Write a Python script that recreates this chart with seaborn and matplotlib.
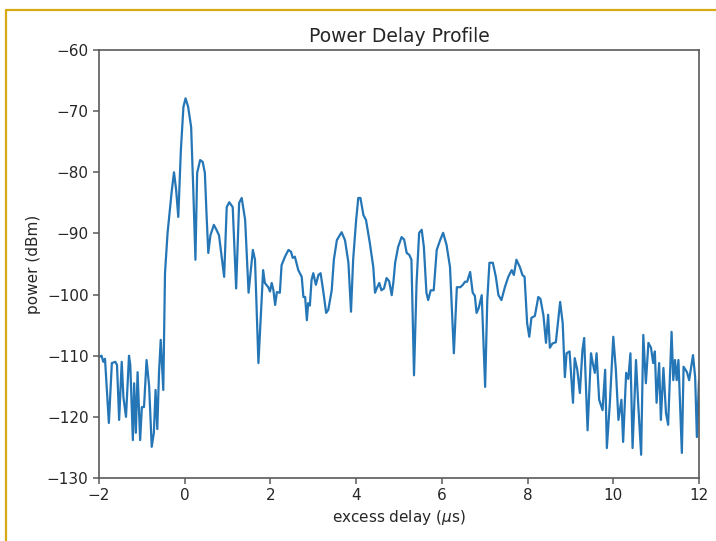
import matplotlib
matplotlib.use("Agg")
import matplotlib.pyplot as plt
from matplotlib.lines import Line2D
import seaborn as sns
import pandas as pd

# ---- data ----
delay_us = [
    -2.00, -1.94, -1.90, -1.86, -1.77, -1.70, -1.62, -1.58, -1.53, -1.47,
    -1.43, -1.37, -1.30, -1.27, -1.21, -1.18, -1.14, -1.10, -1.04, -1.00,
    -0.95, -0.89, -0.83, -0.77, -0.72, -0.68, -0.64, -0.60, -0.56, -0.50,
    -0.46, -0.40, -0.30, -0.25, -0.20, -0.15, -0.09, -0.03, 0.02, 0.08,
    0.15, 0.20, 0.25, 0.29, 0.36, 0.42, 0.47, 0.51, 0.55, 0.60,
    0.68, 0.74, 0.80, 0.92, 0.98, 1.04, 1.12, 1.20, 1.27, 1.33,
    1.41, 1.49, 1.59, 1.64, 1.72, 1.78, 1.83, 1.87, 1.95, 1.99,
    2.03, 2.07, 2.11, 2.15, 2.22, 2.26, 2.34, 2.42, 2.48, 2.52,
    2.57, 2.65, 2.73, 2.77, 2.81, 2.85, 2.88, 2.92, 2.96, 3.00,
    3.06, 3.12, 3.17, 3.23, 3.30, 3.35, 3.43, 3.48, 3.55, 3.66,
    3.74, 3.82, 3.88, 3.93, 4.00, 4.05, 4.10, 4.17, 4.23, 4.32,
    4.40, 4.44, 4.48, 4.54, 4.59, 4.65, 4.71, 4.77, 4.83, 4.87,
    4.91, 4.98, 5.06, 5.12, 5.18, 5.24, 5.29, 5.35, 5.41, 5.47,
    5.53, 5.58, 5.64, 5.68, 5.74, 5.81, 5.88, 5.96, 6.03, 6.11,
    6.19, 6.28, 6.35, 6.43, 6.49, 6.54, 6.59, 6.66, 6.72, 6.77,
    6.81, 6.86, 6.93, 7.01, 7.06, 7.11, 7.19, 7.26, 7.32, 7.39,
    7.47, 7.55, 7.63, 7.68, 7.74, 7.82, 7.88, 7.93, 7.99, 8.04,
    8.09, 8.17, 8.25, 8.30, 8.37, 8.43, 8.48, 8.52, 8.58, 8.66,
    8.76, 8.82, 8.87, 8.91, 8.98, 9.06, 9.10, 9.16, 9.22, 9.28,
    9.32, 9.40, 9.48, 9.52, 9.57, 9.61, 9.67, 9.75, 9.81, 9.85,
    9.92, 10.00, 10.06, 10.12, 10.19, 10.23, 10.30, 10.35, 10.40, 10.45,
    10.53, 10.58, 10.65, 10.70, 10.76, 10.82, 10.88, 10.93, 10.97, 11.01,
    11.07, 11.11, 11.17, 11.23, 11.28, 11.36, 11.40, 11.44, 11.48, 11.52,
    11.60, 11.64, 11.72, 11.77, 11.86, 11.91, 11.95, 12.00,
]
power_dbm = [
    -110.2, -110.0, -111.0, -110.5, -121.0, -111.2, -111.0, -111.5, -120.5, -111.0,
    -116.8, -120.0, -110.0, -111.5, -123.8, -114.5, -122.6, -112.7, -123.8, -118.4,
    -118.4, -110.7, -115.0, -124.9, -122.6, -115.6, -122.0, -112.8, -107.4, -115.6,
    -96.5, -89.9, -82.9, -80.0, -82.9, -87.3, -76.4, -69.3, -67.9, -69.3,
    -72.6, -82.9, -94.3, -80.1, -78.0, -78.3, -80.1, -87.0, -93.2, -90.3,
    -88.6, -89.4, -90.3, -97.1, -85.7, -84.9, -85.7, -99.0, -85.0, -84.2,
    -87.8, -99.7, -92.7, -94.3, -111.2, -103.0, -96.0, -98.1, -98.8, -99.5,
    -98.1, -99.3, -101.7, -99.6, -99.7, -95.2, -93.8, -92.7, -93.0, -94.0,
    -93.8, -96.0, -97.1, -100.4, -100.4, -104.2, -101.4, -101.8, -97.6, -96.5,
    -98.4, -96.8, -96.5, -99.3, -103.0, -102.5, -99.3, -94.3, -91.1, -89.8,
    -91.1, -94.8, -102.8, -94.3, -87.8, -84.2, -84.2, -87.0, -87.8, -91.6,
    -95.5, -99.7, -99.0, -98.1, -99.3, -99.0, -97.3, -97.8, -100.1, -97.9,
    -94.8, -92.2, -90.6, -91.0, -93.2, -93.5, -94.3, -113.2, -98.1, -89.9,
    -89.4, -92.2, -99.7, -100.9, -99.3, -99.3, -92.7, -91.1, -89.9, -91.9,
    -95.5, -109.6, -98.8, -98.8, -98.4, -97.9, -97.9, -96.3, -99.7, -100.2,
    -103.0, -102.2, -100.1, -115.1, -100.9, -94.8, -94.8, -97.1, -100.1, -100.9,
    -98.8, -97.1, -96.0, -96.8, -94.3, -95.5, -96.8, -97.1, -104.7, -106.9,
    -103.8, -103.5, -100.4, -100.7, -103.4, -107.9, -103.3, -108.7, -108.0, -107.8,
    -101.2, -104.7, -113.5, -109.6, -109.3, -117.7, -110.4, -112.3, -116.1, -109.1,
    -107.1, -122.2, -109.6, -111.2, -112.8, -109.6, -117.2, -118.9, -112.3, -125.1,
    -117.7, -106.9, -112.3, -120.5, -117.2, -124.1, -112.8, -113.8, -109.6, -125.1,
    -110.7, -117.7, -126.2, -106.6, -114.5, -107.9, -108.7, -111.2, -109.3, -117.7,
    -111.2, -120.5, -112.0, -119.4, -121.3, -106.1, -114.0, -110.7, -114.0, -110.7,
    -125.9, -111.8, -112.7, -114.0, -109.9, -113.5, -123.3, -114.0,
]

x_ticks = [-2, 0, 2, 4, 6, 8, 10, 12]
y_ticks = [-130, -120, -110, -100, -90, -80, -70, -60]
title_text = "Power Delay Profile"
x_label = r"excess delay ($\mu$s)"
y_label = "power (dBm)"

df = pd.DataFrame({"delay": delay_us, "power": power_dbm})

sns.set_style("ticks")
plt.rcParams["font.family"] = ["DejaVu Sans"]
text_color = "#262626"
spine_color = "#5a5a5a"

fig = plt.figure(figsize=(7.16, 5.41), dpi=100)
ax = fig.add_axes([99 / 716, 1 - 478 / 541, 600 / 716, 428 / 541])

sns.lineplot(data=df, x="delay", y="power", ax=ax, color="#2576b6",
             linewidth=1.6, estimator=None, sort=False, legend=False)

ax.set_xlim(-2, 12)
ax.set_ylim(-130, -60)
ax.set_xticks(x_ticks)
ax.set_yticks(y_ticks)
ax.set_xticklabels([str(t) if t >= 0 else "\u2212" + str(-t) for t in x_ticks])
ax.set_yticklabels(["\u2212" + str(-t) for t in y_ticks])

for s in ax.spines.values():
    s.set_visible(True)
    s.set_color(spine_color)
    s.set_linewidth(1.2)
ax.tick_params(axis="both", direction="out", length=4.5, width=1.1,
               color=spine_color, labelsize=11, labelcolor=text_color, pad=3)

ax.set_title(title_text, fontsize=13.5, color=text_color, pad=6)
ax.set_xlabel(x_label, fontsize=11, color=text_color, labelpad=3)
ax.set_ylabel(y_label, fontsize=11, color=text_color, labelpad=4)
ax.grid(False)

# gold frame of the original picture
gold = "#d6ab12"
fig.add_artist(Line2D([5.5 / 716, 5.5 / 716], [0, 1 - 9.5 / 541],
                      transform=fig.transFigure, color=gold, linewidth=1.6))
fig.add_artist(Line2D([5.5 / 716, 1], [1 - 9.5 / 541, 1 - 9.5 / 541],
                      transform=fig.transFigure, color=gold, linewidth=1.6))

fig.savefig("out.png", dpi=100)
